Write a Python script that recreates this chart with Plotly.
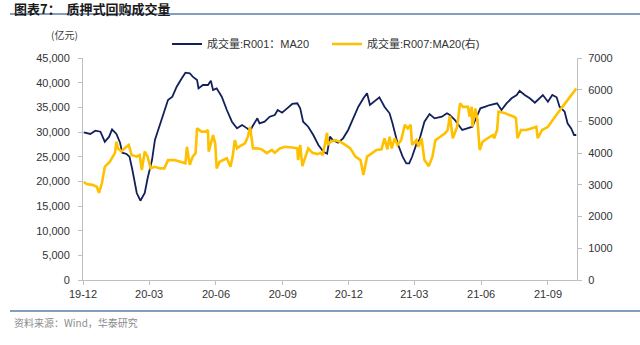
import plotly.graph_objects as go

# ---- data ----
r001_dates = ["2019-12-02", "2019-12-11", "2019-12-18", "2019-12-25", "2019-12-31", "2020-01-06", "2020-01-10",
              "2020-01-16", "2020-01-21", "2020-01-24", "2020-01-30", "2020-02-03", "2020-02-07", "2020-02-13",
              "2020-02-18", "2020-02-24", "2020-02-28", "2020-03-05", "2020-03-09", "2020-03-16", "2020-03-22",
              "2020-03-27", "2020-04-02", "2020-04-08", "2020-04-15", "2020-04-20", "2020-04-26", "2020-04-30",
              "2020-05-06", "2020-05-08", "2020-05-14", "2020-05-21", "2020-05-25", "2020-05-28", "2020-06-02",
              "2020-06-09", "2020-06-16", "2020-06-23", "2020-06-30", "2020-07-07", "2020-07-14", "2020-07-18",
              "2020-07-21", "2020-07-28", "2020-07-31", "2020-08-07", "2020-08-14", "2020-08-21", "2020-08-25",
              "2020-08-31", "2020-09-07", "2020-09-14", "2020-09-21", "2020-09-25", "2020-09-29", "2020-10-06",
              "2020-10-13", "2020-10-20", "2020-10-27", "2020-11-01", "2020-11-05", "2020-11-09", "2020-11-16",
              "2020-11-23", "2020-11-30", "2020-12-07", "2020-12-14", "2020-12-21", "2020-12-26", "2020-12-30",
              "2021-01-05", "2021-01-12", "2021-01-19", "2021-01-26", "2021-01-30", "2021-02-06", "2021-02-13",
              "2021-02-18", "2021-02-22", "2021-02-26", "2021-03-05", "2021-03-08", "2021-03-15", "2021-03-22",
              "2021-03-29", "2021-04-08", "2021-04-15", "2021-04-19", "2021-04-26", "2021-04-29", "2021-05-06",
              "2021-05-13", "2021-05-20", "2021-05-24", "2021-05-31", "2021-06-07", "2021-06-13", "2021-06-23",
              "2021-06-29", "2021-07-06", "2021-07-13", "2021-07-20", "2021-07-24", "2021-07-31", "2021-08-07",
              "2021-08-14", "2021-08-21", "2021-08-25", "2021-09-01", "2021-09-07", "2021-09-13", "2021-09-17",
              "2021-09-24", "2021-09-28", "2021-10-03", "2021-10-07", "2021-10-10"]
r001_values = [29900, 29600, 30260, 30060, 28030, 29050, 30540,
               29600, 27830, 25800, 25540, 25000, 22300, 17630,
               16070, 17630, 20680, 24320, 28380, 31420, 34460,
               36490, 37160, 39180, 40880, 42020, 41900, 41210,
               40540, 38850, 39530, 39530, 40400, 38510, 38850,
               37160, 34460, 32090, 30740, 31420, 30740, 30200,
               31070, 32770, 31760, 32090, 33100, 33450, 34460,
               33910, 34800, 35680, 35810, 34800, 32090, 31070,
               29390, 27360, 26000, 25600, 29050, 28380, 27830,
               28720, 30410, 32770, 35130, 36830, 37840, 35470,
               36140, 37030, 35130, 33790, 31760, 27710, 25000,
               23650, 23650, 24980, 28000, 28380, 32090, 33650,
               32770, 33100, 33790, 33450, 32430, 31760, 30410,
               30740, 31070, 32430, 34800, 35130, 35470, 35810,
               34460, 35810, 36830, 37500, 38370, 37500, 36830,
               35940, 36830, 37500, 36140, 37500, 37030, 35130,
               34120, 31760, 30740, 29390, 29390]

r007_dates = ["2019-12-02", "2019-12-06", "2019-12-14", "2019-12-20", "2019-12-23", "2019-12-27", "2019-12-31",
              "2020-01-07", "2020-01-11", "2020-01-14", "2020-01-16", "2020-01-18", "2020-01-23", "2020-01-27",
              "2020-02-02", "2020-02-06", "2020-02-13", "2020-02-17", "2020-02-20", "2020-02-24", "2020-02-28",
              "2020-03-03", "2020-03-09", "2020-03-16", "2020-03-22", "2020-03-27", "2020-04-05", "2020-04-12",
              "2020-04-20", "2020-04-22", "2020-04-26", "2020-04-30", "2020-05-04", "2020-05-06", "2020-05-12",
              "2020-05-18", "2020-05-21", "2020-05-22", "2020-05-28", "2020-05-31", "2020-06-02", "2020-06-06",
              "2020-06-16", "2020-06-21", "2020-06-24", "2020-06-27", "2020-06-30", "2020-07-04", "2020-07-11",
              "2020-07-15", "2020-07-18", "2020-07-22", "2020-07-28", "2020-08-03", "2020-08-10", "2020-08-17",
              "2020-08-21", "2020-08-28", "2020-09-04", "2020-09-14", "2020-09-21", "2020-09-22", "2020-09-25",
              "2020-09-28", "2020-10-02", "2020-10-06", "2020-10-12", "2020-10-19", "2020-10-23", "2020-10-26",
              "2020-10-30", "2020-11-01", "2020-11-02", "2020-11-06", "2020-11-12", "2020-11-19", "2020-11-26",
              "2020-12-03", "2020-12-10", "2020-12-17", "2020-12-21", "2020-12-26", "2021-01-02", "2021-01-08",
              "2021-01-15", "2021-01-19", "2021-01-23", "2021-01-26", "2021-01-29", "2021-02-02", "2021-02-06",
              "2021-02-11", "2021-02-16", "2021-02-20", "2021-02-24", "2021-02-26", "2021-03-04", "2021-03-07",
              "2021-03-11", "2021-03-15", "2021-03-21", "2021-03-26", "2021-03-30", "2021-04-05", "2021-04-12",
              "2021-04-16", "2021-04-19", "2021-04-23", "2021-04-29", "2021-05-03", "2021-05-07", "2021-05-14",
              "2021-05-16", "2021-05-19", "2021-05-20", "2021-05-24", "2021-05-27", "2021-05-30", "2021-06-03",
              "2021-06-10", "2021-06-17", "2021-06-19", "2021-06-23", "2021-06-25", "2021-07-03", "2021-07-10",
              "2021-07-16", "2021-07-19", "2021-07-21", "2021-07-26", "2021-08-02", "2021-08-09", "2021-08-16",
              "2021-08-18", "2021-08-24", "2021-09-01", "2021-09-07", "2021-09-14", "2021-09-21", "2021-09-28",
              "2021-10-04", "2021-10-10"]
r007_values = [3100, 3030, 3000, 2940, 2750, 3050, 3570,
               3730, 3890, 4000, 4360, 4150, 4050, 4150,
               4260, 3940, 3890, 3940, 3470, 4050, 3890,
               3520, 3570, 3520, 3520, 3780, 3780, 3730,
               3680, 4200, 3630, 3890, 4000, 4780, 4680,
               4680, 4730, 4050, 4570, 4310, 3520, 3730,
               3840, 3570, 3890, 4410, 4150, 4220, 4310,
               4520, 4830, 4150, 4150, 4120, 4000, 4100,
               4010, 4150, 4200, 4180, 4150, 3780, 4260,
               3590, 3890, 4150, 4010, 3970, 4010, 3940,
               4410, 4640, 4260, 4360, 4410, 4360, 4260,
               4150, 3890, 3780, 3310, 3890, 4000, 4100,
               4120, 4470, 4120, 4520, 4150, 4470, 4260,
               4410, 4890, 4780, 4890, 4260, 4410, 4200,
               4470, 3780, 3590, 3890, 4410, 4520, 4620,
               4730, 5170, 4470, 4830, 5570, 5460, 5460,
               5150, 5460, 4830, 5410, 5040, 4100, 4360,
               4470, 4570, 4470, 4730, 5310, 5270, 5200,
               5150, 5100, 4470, 4730, 4730, 4780, 4830,
               4470, 4730, 4830, 5040, 5250, 5460, 5680,
               5890, 6040]

tick_dates = ["2019-12-01", "2020-03-01", "2020-06-01", "2020-09-01", "2020-12-01",
              "2021-03-01", "2021-06-01", "2021-09-01"]
tick_labels = ["19-12", "20-03", "20-06", "20-09", "20-12", "21-03", "21-06", "21-09"]

series_names = ["成交量:R001：MA20", "成交量:R007:MA20(右)"]
title_text = "图表7：  质押式回购成交量"
unit_text = "(亿元)"
source_text = "资料来源：Wind，华泰研究"

# ---- styling ----
FONT = "Liberation Sans, Arial, Noto Sans CJK SC, sans-serif"
CJK = "Noto Sans CJK SC, Liberation Sans, sans-serif"
NAVY = "#13205c"
GOLD = "#ffc000"
AXIS = "#bfbfbf"
RULE = "#5b7fa8"

fig = go.Figure()
fig.add_trace(go.Scatter(x=r001_dates, y=r001_values, mode="lines", name=series_names[0],
                         line=dict(color=NAVY, width=1.8), yaxis="y"))
fig.add_trace(go.Scatter(x=r007_dates, y=r007_values, mode="lines", name=series_names[1],
                         line=dict(color=GOLD, width=2.6), yaxis="y2"))

L, R, T, B = 83, 63, 58, 65
W, H = 640, 345
pw, ph = W - L - R, H - T - B


def px(x):
    return (x - L) / pw


def py(y):
    return (H - B - y) / ph


fig.update_layout(
    width=W, height=H,
    margin=dict(l=L, r=R, t=T, b=B),
    paper_bgcolor="white", plot_bgcolor="white",
    font=dict(family=FONT, size=11, color="#333333"),
    showlegend=True,
    legend=dict(orientation="h", x=px(167), y=py(44), xanchor="left", yanchor="middle",
                entrywidth=115, entrywidthmode="pixels", bgcolor="rgba(0,0,0,0)",
                font=dict(family=FONT, size=11, color="#333333"), itemwidth=30,
                tracegroupgap=0),
    xaxis=dict(type="date", range=["2019-12-01", "2021-10-11"], tickmode="array",
               tickvals=tick_dates, ticktext=tick_labels, showgrid=False, zeroline=False,
               showline=True, linecolor=AXIS, linewidth=1, ticks="outside", ticklen=4,
               tickcolor=AXIS, tickfont=dict(size=11, color="#333333")),
    yaxis=dict(range=[0, 45000], dtick=5000, tickformat=",", showgrid=False, zeroline=False,
               showline=True, linecolor=AXIS, linewidth=1, ticks="outside", ticklen=4,
               tickcolor=AXIS, ticklabelstandoff=6, tickfont=dict(size=11, color="#333333")),
    yaxis2=dict(range=[0, 7000], dtick=1000, tickformat="d", overlaying="y", side="right",
                showgrid=False, zeroline=False, showline=True, linecolor=AXIS, linewidth=1,
                ticks="outside", ticklen=4, tickcolor=AXIS, ticklabelstandoff=4,
                tickfont=dict(size=11, color="#333333")),
)

fig.add_annotation(text="<b>" + title_text + "</b>", xref="paper", yref="paper",
                   x=px(12), y=py(8), xanchor="left", yanchor="middle", showarrow=False,
                   font=dict(family=CJK, size=13, color="#1a1a1a"))
fig.add_shape(type="line", xref="paper", yref="paper", x0=px(10), x1=px(640), y0=py(14), y1=py(14),
              line=dict(color=RULE, width=1.5))
fig.add_annotation(text=unit_text, xref="paper", yref="paper", x=px(64), y=py(34),
                   xanchor="center", yanchor="middle", showarrow=False,
                   font=dict(family=CJK, size=10, color="#404040"))
fig.add_shape(type="line", xref="paper", yref="paper", x0=px(10), x1=px(640), y0=py(311), y1=py(311),
              line=dict(color=RULE, width=1.5))
fig.add_annotation(text=source_text, xref="paper", yref="paper", x=px(12), y=py(322),
                   xanchor="left", yanchor="middle", showarrow=False,
                   font=dict(family=CJK, size=10, color="#8c8c8c"))

fig.write_html("out.html")
